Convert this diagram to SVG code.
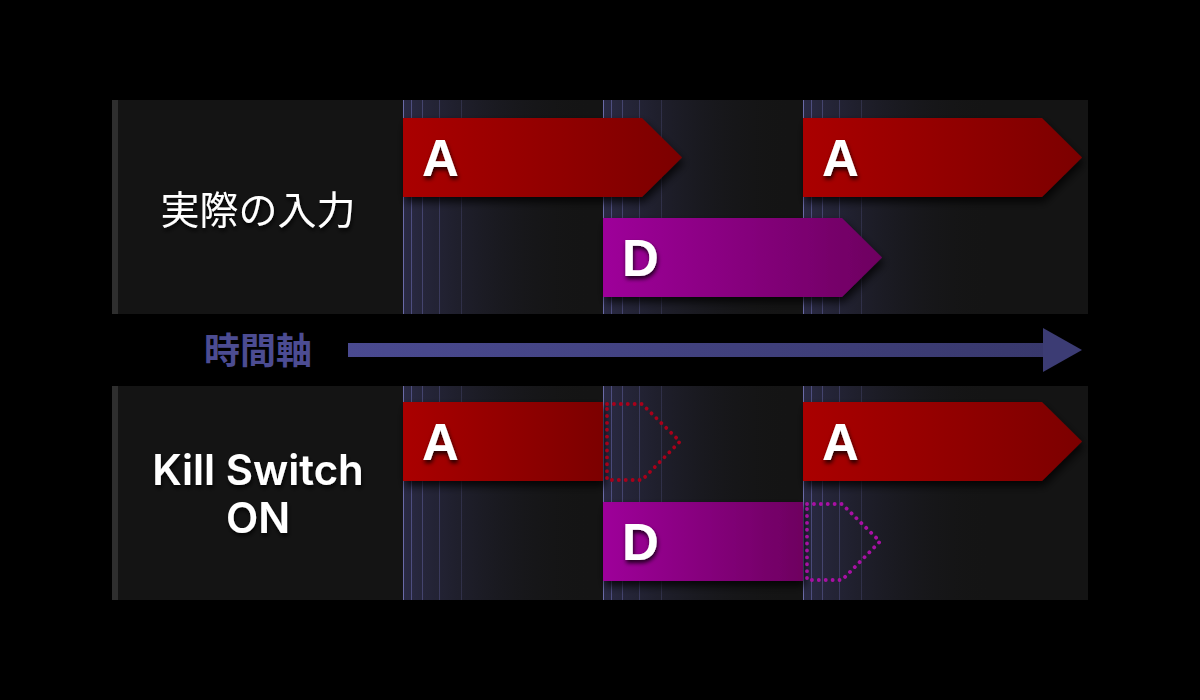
<svg xmlns="http://www.w3.org/2000/svg" width="1200" height="700" viewBox="0 0 1200 700">
<style>
.lbl{font-family:Inter,"Noto Sans CJK JP","Noto Sans",sans-serif;font-weight:600;fill:#ffffff;font-size:42px;text-anchor:middle;filter:url(#ts)}
.jp{font-family:"Noto Sans CJK JP",sans-serif;font-weight:400;font-size:39px}
.bar{font-family:"Liberation Sans",Arial,sans-serif;font-weight:700;fill:#ffffff;font-size:51px;filter:url(#ts)}
.dot{fill:none;stroke-width:3.8;stroke-dasharray:0.1 6.8;stroke-linecap:round}
</style>
<defs>
<linearGradient id="red" x1="0" y1="0" x2="1" y2="0"><stop offset="0" stop-color="#aa0000"/><stop offset="1" stop-color="#7c0000"/></linearGradient>
<linearGradient id="pur" x1="0" y1="0" x2="1" y2="0"><stop offset="0" stop-color="#9e009a"/><stop offset="1" stop-color="#6e0060"/></linearGradient>
<linearGradient id="band" x1="0" y1="0" x2="1" y2="0"><stop offset="0" stop-color="#2a2a44"/><stop offset="1" stop-color="#141414" stop-opacity="0"/></linearGradient>
<linearGradient id="ax" x1="0" y1="0" x2="1" y2="0"><stop offset="0" stop-color="#4a4a90"/><stop offset="1" stop-color="#38386c"/></linearGradient>
<filter id="ds" x="-10%" y="-20%" width="130%" height="160%"><feDropShadow dx="2" dy="5" stdDeviation="4" flood-color="#000" flood-opacity="0.8"/></filter>
<filter id="ts" x="-20%" y="-20%" width="140%" height="160%"><feDropShadow dx="1" dy="3" stdDeviation="2" flood-color="#000" flood-opacity="0.8"/></filter>
<g id="guide">
<rect x="0" y="0" width="190" height="214" fill="url(#band)"/>
<line x1="0.5" y1="0" x2="0.5" y2="214" stroke="#6a6aa8"/>
<line x1="8.5" y1="0" x2="8.5" y2="214" stroke="#4e4e80"/>
<line x1="19.5" y1="0" x2="19.5" y2="214" stroke="#44446e"/>
<line x1="36.5" y1="0" x2="36.5" y2="214" stroke="#3a3a5c"/>
<line x1="58.5" y1="0" x2="58.5" y2="214" stroke="#303048"/>
</g>
</defs>
<rect width="1200" height="700" fill="#000"/>

<g id="panel-top">
<rect x="112" y="100" width="976" height="214" fill="#141414"/>
<rect x="112" y="100" width="6" height="214" fill="#2e2e2e"/>
<use href="#guide" x="403" y="100"/>
<use href="#guide" x="603" y="100"/>
<use href="#guide" x="803" y="100"/>
<text class="lbl jp" x="258" y="224">実際の入力</text>
</g>

<g id="panel-bottom">
<rect x="112" y="386" width="976" height="214" fill="#141414"/>
<rect x="112" y="386" width="6" height="214" fill="#2e2e2e"/>
<use href="#guide" x="403" y="386"/>
<use href="#guide" x="603" y="386"/>
<use href="#guide" x="803" y="386"/>
<text class="lbl" x="258" y="485">Kill Switch</text>
<text class="lbl" x="258" y="533">ON</text>
</g>

<g id="axis">
<text x="258" y="364" font-family="'Noto Sans CJK JP',sans-serif" font-weight="700" font-size="36" fill="#4c4c92" text-anchor="middle">時間軸</text>
<rect x="348" y="343" width="698" height="14" fill="url(#ax)"/>
<polygon points="1043,328 1082,350 1043,372" fill="#3c3c74"/>
</g>

<g id="top-A1" filter="url(#ds)">
<polygon points="403,118 642,118 682,157.5 642,197 403,197" fill="url(#red)"/>
<text class="bar" x="422" y="176">A</text>
</g>
<g id="top-D" filter="url(#ds)">
<polygon points="603,218 842,218 882,257.5 842,297 603,297" fill="url(#pur)"/>
<text class="bar" x="622" y="276">D</text>
</g>
<g id="top-A2" filter="url(#ds)">
<polygon points="803,118 1042,118 1082,157.5 1042,197 803,197" fill="url(#red)"/>
<text class="bar" x="822" y="176">A</text>
</g>

<g id="bot-A1">
<polygon points="403,402 603,402 603,481 403,481" fill="url(#red)" filter="url(#ds)"/>
<polygon class="dot" points="607,404 642,404 680,441.5 642,480 607,480 607,404" stroke="#a8001a"/>
<text class="bar" x="422" y="460">A</text>
</g>
<g id="bot-D">
<polygon points="603,502 803,502 803,581 603,581" fill="url(#pur)" filter="url(#ds)"/>
<polygon class="dot" points="807,504 842,504 880,541.5 842,580 807,580 807,504" stroke="#a810a4"/>
<text class="bar" x="622" y="560">D</text>
</g>
<g id="bot-A2" filter="url(#ds)">
<polygon points="803,402 1042,402 1082,441.5 1042,481 803,481" fill="url(#red)"/>
<text class="bar" x="822" y="460">A</text>
</g>
</svg>
